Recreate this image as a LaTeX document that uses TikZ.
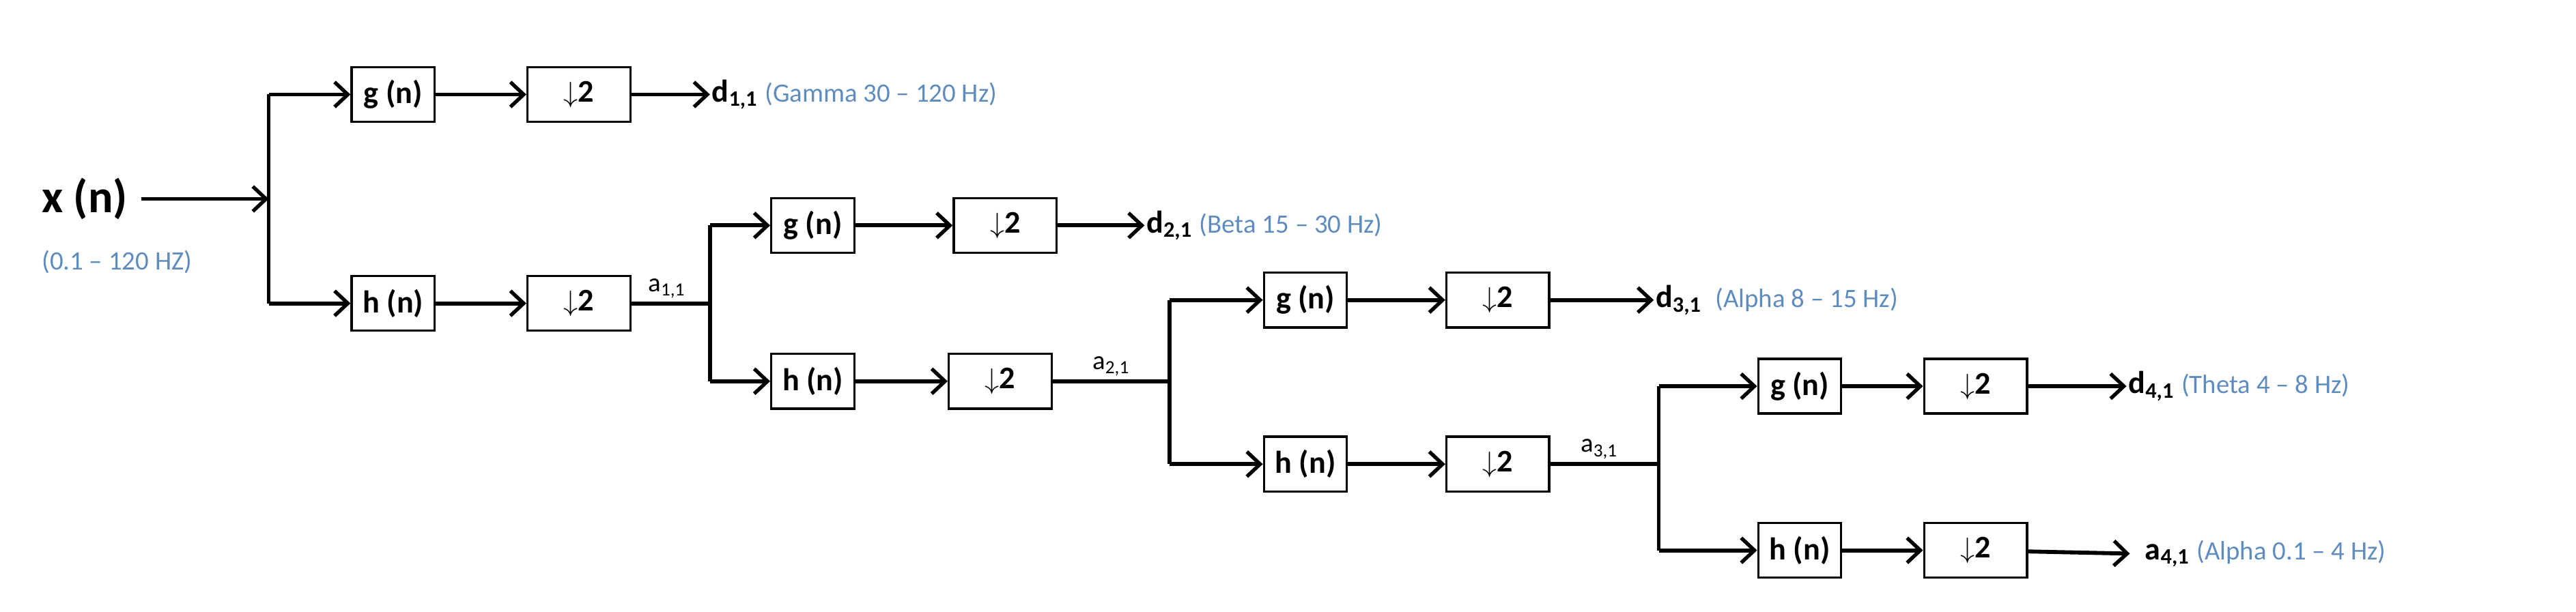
\documentclass[tikz,border=0pt]{standalone}
\usepackage{fontspec}
\setmainfont{Carlito}
\usetikzlibrary{arrows.meta}
\definecolor{lb}{RGB}{95,140,190}
\begin{document}
\begin{tikzpicture}[x=1pt,y=-1pt,
  box/.style={draw,line width=1.4pt,minimum width=50pt,minimum height=33pt,inner sep=0pt,font=\fontsize{19}{21}\selectfont\bfseries},
  dbox/.style={box,minimum width=62pt},
  ar/.style={line width=2.4pt,-{Straight Barb[length=8pt,width=15pt,line width=2.2pt]}},
  ln/.style={line width=2.4pt},
  lab/.style={anchor=west,inner sep=1pt,font=\fontsize{19}{21}\selectfont},
  sm/.style={font=\fontsize{16}{18}\selectfont},
  bl/.style={text=lb,font=\fontsize{16}{18}\selectfont}]
\useasboundingbox (0,0) rectangle (1553,369);
% input
\node[anchor=west,inner sep=0pt,font=\fontsize{28}{30}\selectfont\bfseries] (x) at (25,120) {x (n)};
\node[anchor=west,inner sep=0pt,bl] (xr) at (25,158) {(0.1 -- 120 HZ)};
\coordinate (b1) at (162,120);
\coordinate (b1g) at (162,57);
\coordinate (b1h) at (162,183);
\draw[ar] (x.east)++(8,0) -- (b1);
% level 1
\node[box] (g1) at (237,57) {g (n)};
\node[dbox] (dg1) at (349,57) {$\downarrow$2};
\node[box] (h1) at (237,183) {h (n)};
\node[dbox] (dh1) at (349,183) {$\downarrow$2};
\node[lab] (d11) at (428,57) {\textbf{d\textsubscript{1,1}} {\color{lb}\fontsize{16}{18}\selectfont(Gamma 30 -- 120 Hz)}};
\draw[ln] (b1g) -- (b1h);
\draw[ar] (b1g) -- (g1);
\draw[ar] (b1h) -- (h1);
\draw[ar] (g1) -- (dg1);
\draw[ar] (h1) -- (dh1);
\draw[ar] (dg1) -- (d11.west);
\coordinate (b2) at (428,183);
\coordinate (b2g) at (428,136);
\coordinate (b2h) at (428,230);
\draw[ln] (dh1) -- (b2) node[pos=0.45,above,sm,inner sep=2pt] (a11) {a\textsubscript{1,1}};
% level 2
\node[box] (g2) at (490,136) {g (n)};
\node[dbox] (dg2) at (606,136) {$\downarrow$2};
\node[box] (h2) at (490,230) {h (n)};
\node[dbox] (dh2) at (603,230) {$\downarrow$2};
\node[lab] (d21) at (690,136) {\textbf{d\textsubscript{2,1}} {\color{lb}\fontsize{16}{18}\selectfont(Beta 15 -- 30 Hz)}};
\draw[ln] (b2g) -- (b2h);
\draw[ar] (b2g) -- (g2);
\draw[ar] (b2h) -- (h2);
\draw[ar] (g2) -- (dg2);
\draw[ar] (h2) -- (dh2);
\draw[ar] (dg2) -- (d21.west);
\coordinate (b3) at (705,230);
\coordinate (b3g) at (705,181);
\coordinate (b3h) at (705,280);
\draw[ln] (dh2) -- (b3) node[pos=0.5,above,sm,inner sep=2pt] (a21) {a\textsubscript{2,1}};
% level 3
\node[box] (g3) at (787,181) {g (n)};
\node[dbox] (dg3) at (903,181) {$\downarrow$2};
\node[box] (h3) at (787,280) {h (n)};
\node[dbox] (dh3) at (903,280) {$\downarrow$2};
\node[lab] (d31) at (997,181) {\textbf{d\textsubscript{3,1}} \hspace{4pt}{\color{lb}\fontsize{16}{18}\selectfont(Alpha 8 -- 15 Hz)}};
\draw[ln] (b3g) -- (b3h);
\draw[ar] (b3g) -- (g3);
\draw[ar] (b3h) -- (h3);
\draw[ar] (g3) -- (dg3);
\draw[ar] (h3) -- (dh3);
\draw[ar] (dg3) -- (d31.west);
\coordinate (b4) at (1000,280);
\coordinate (b4g) at (1000,233);
\coordinate (b4h) at (1000,332);
\draw[ln] (dh3) -- (b4) node[pos=0.45,above,sm,inner sep=2pt] (a31) {a\textsubscript{3,1}};
% level 4
\node[box] (g4) at (1085,233) {g (n)};
\node[dbox] (dg4) at (1191,233) {$\downarrow$2};
\node[box] (h4) at (1085,332) {h (n)};
\node[dbox] (dh4) at (1191,332) {$\downarrow$2};
\node[lab] (d41) at (1282,233) {\textbf{d\textsubscript{4,1}} {\color{lb}\fontsize{16}{18}\selectfont(Theta 4 -- 8 Hz)}};
\node[lab] (a41) at (1292,334) {\textbf{a\textsubscript{4,1}} {\color{lb}\fontsize{16}{18}\selectfont(Alpha 0.1 -- 4 Hz)}};
\draw[ln] (b4g) -- (b4h);
\draw[ar] (b4g) -- (g4);
\draw[ar] (b4h) -- (h4);
\draw[ar] (g4) -- (dg4);
\draw[ar] (h4) -- (dh4);
\draw[ar] (dg4) -- (d41.west);
\draw[ar] (dh4) -- ([xshift=-8pt]a41.west);
\end{tikzpicture}
\end{document}
